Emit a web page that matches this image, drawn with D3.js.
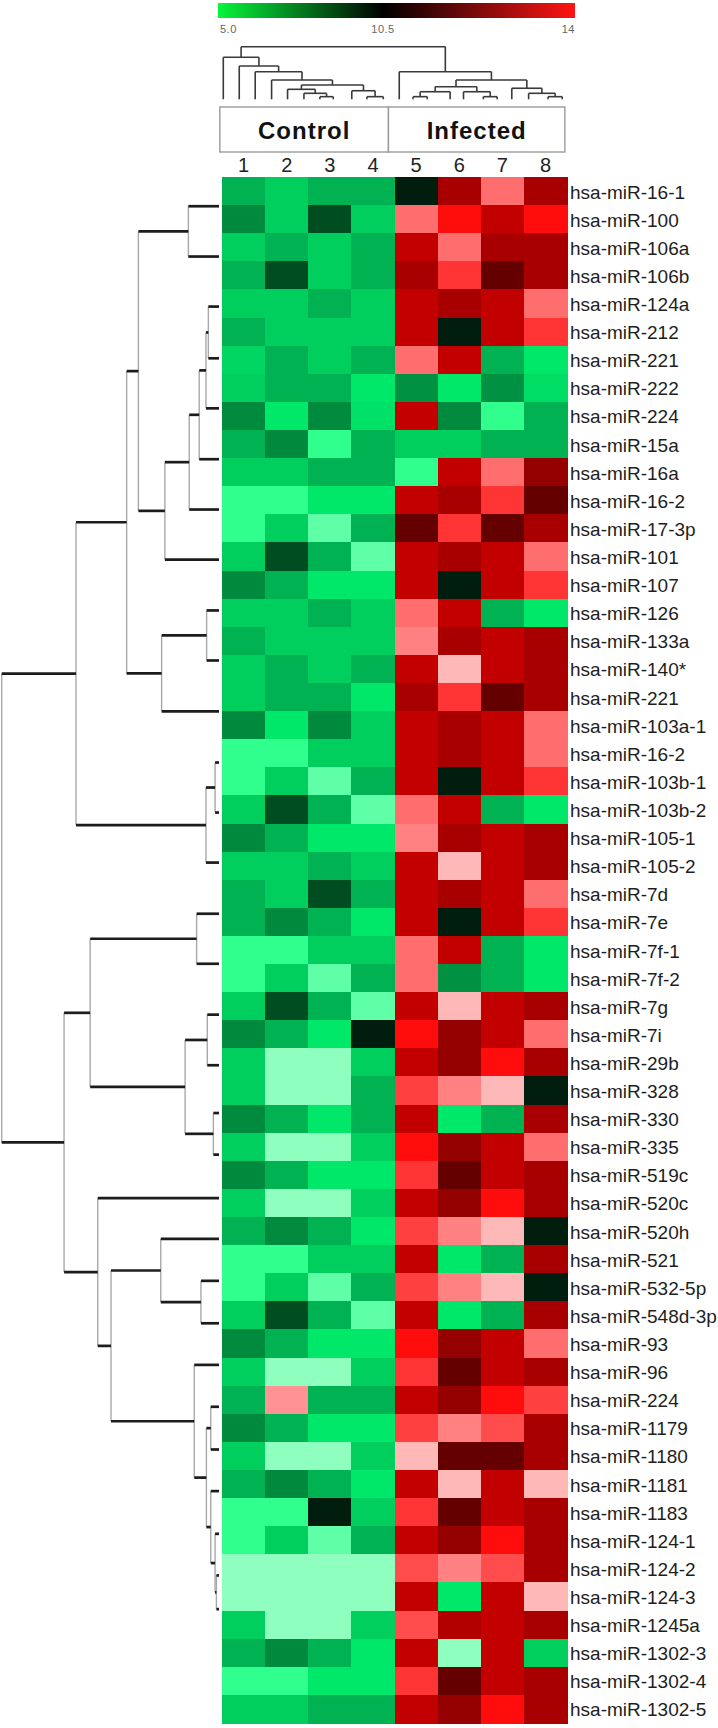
<!DOCTYPE html>
<html><head><meta charset="utf-8">
<script src="https://cdn.jsdelivr.net/npm/d3@7"></script>
<style>body{margin:0;background:#fff}svg{display:block}</style>
</head><body>
<script>
// ---------- DATA ----------
const rowLabels = ["hsa-miR-16-1","hsa-miR-100","hsa-miR-106a","hsa-miR-106b","hsa-miR-124a","hsa-miR-212","hsa-miR-221","hsa-miR-222","hsa-miR-224","hsa-miR-15a","hsa-miR-16a","hsa-miR-16-2","hsa-miR-17-3p","hsa-miR-101","hsa-miR-107","hsa-miR-126","hsa-miR-133a","hsa-miR-140*","hsa-miR-221","hsa-miR-103a-1","hsa-miR-16-2","hsa-miR-103b-1","hsa-miR-103b-2","hsa-miR-105-1","hsa-miR-105-2","hsa-miR-7d","hsa-miR-7e","hsa-miR-7f-1","hsa-miR-7f-2","hsa-miR-7g","hsa-miR-7i","hsa-miR-29b","hsa-miR-328","hsa-miR-330","hsa-miR-335","hsa-miR-519c","hsa-miR-520c","hsa-miR-520h","hsa-miR-521","hsa-miR-532-5p","hsa-miR-548d-3p","hsa-miR-93","hsa-miR-96","hsa-miR-224","hsa-miR-1179","hsa-miR-1180","hsa-miR-1181","hsa-miR-1183","hsa-miR-124-1","hsa-miR-124-2","hsa-miR-124-3","hsa-miR-1245a","hsa-miR-1302-3","hsa-miR-1302-4","hsa-miR-1302-5"];
const sampleLabels = ["1","2","3","4","5","6","7","8"];
const groups = ["Control","Infected"];
const groupSpans = [[-0.05,3.86],[3.86,7.95]];   // in column units
const legendTicks = [5.0, 10.5, 14];
const legendTickLabels = ["5.0","10.5","14"];

const sample1 = [6.8,7.8,6.0,6.8,6.0,6.8,5.8,6.0,7.8,6.8,6.0,4.6,4.6,6.0,7.8,6.0,6.8,6.0,6.0,7.8,4.6,4.6,6.0,7.8,6.0,6.8,6.8,4.6,4.6,6.0,7.8,6.0,6.0,7.8,6.0,7.8,6.0,6.8,4.6,4.6,6.0,7.8,6.0,6.8,7.8,6.0,6.8,4.6,4.6,4.0,4.0,6.0,6.8,4.6,6.0];
const sample2 = [6.0,6.0,6.8,9.0,6.0,6.0,6.8,6.8,5.3,7.8,6.0,4.6,6.0,9.0,6.8,6.0,6.0,6.8,6.8,5.3,4.6,6.0,9.0,6.8,6.0,6.0,7.8,4.6,6.0,9.0,6.8,4.0,4.0,6.8,4.0,6.8,4.0,7.8,4.6,6.0,9.0,6.8,4.0,14.0,6.8,4.0,7.8,4.6,6.0,4.0,4.0,4.0,7.8,4.6,6.0];
const sample3 = [6.8,9.0,6.0,6.0,6.8,6.0,6.0,6.8,7.8,4.6,6.8,5.3,4.3,6.8,5.3,6.8,6.0,6.0,6.8,7.8,6.0,4.3,6.8,5.3,6.8,9.0,6.8,6.0,4.3,6.8,5.3,4.0,4.0,5.3,4.0,5.3,4.0,6.8,6.0,4.3,6.8,5.3,4.0,6.8,5.3,4.0,6.8,10.5,4.3,4.0,4.0,4.0,6.8,5.3,6.8];
const sample4 = [6.8,6.0,6.8,6.8,6.0,6.0,6.8,5.3,5.5,6.8,6.8,5.3,6.8,4.3,5.3,6.0,6.0,6.8,5.3,6.0,6.0,6.8,4.3,5.3,6.0,6.8,5.3,6.0,6.8,4.3,10.5,6.0,6.8,6.8,6.0,5.3,6.0,5.3,6.0,6.8,4.3,5.3,6.0,6.8,5.3,6.0,5.3,6.0,6.8,4.0,4.0,6.0,5.3,5.3,6.8];
const sample5 = [10.5,13.8,12.7,12.2,12.7,12.7,13.8,7.6,12.7,6.0,4.6,12.7,11.5,12.7,12.7,13.8,13.9,12.7,12.2,12.7,12.7,12.7,13.8,13.9,12.7,12.7,12.7,13.8,13.8,12.7,13.3,12.7,13.6,12.7,13.3,13.55,12.7,13.6,12.7,13.6,12.7,13.3,13.55,12.7,13.6,14.2,12.7,13.55,12.7,13.65,12.7,13.65,12.7,13.55,12.7];
const sample6 = [12.2,13.3,13.8,13.55,12.2,10.5,12.7,5.3,7.8,6.0,12.7,12.2,13.55,12.2,10.5,12.7,12.2,14.2,13.55,12.2,12.2,10.5,12.7,12.2,14.2,12.2,10.5,12.7,7.6,14.2,12.0,12.0,13.9,5.3,12.0,11.5,12.0,13.9,5.3,13.9,5.3,12.0,11.5,12.0,13.9,11.5,14.2,11.5,12.0,13.9,5.3,12.4,4.0,11.5,12.0];
const sample7 = [13.8,12.7,12.2,11.5,12.7,12.7,6.8,7.6,4.6,6.8,13.8,13.55,11.5,12.7,12.7,6.8,12.7,12.7,11.5,12.7,12.7,12.7,6.8,12.7,12.7,12.7,12.7,6.8,6.8,12.7,12.7,13.3,14.2,6.8,12.7,12.7,13.3,14.2,6.8,14.2,6.8,12.7,12.7,13.3,13.65,11.5,12.7,12.7,13.3,13.65,12.7,12.7,12.7,12.7,13.3];
const sample8 = [12.2,13.3,12.2,12.2,13.8,13.55,5.3,5.6,6.8,6.8,12.0,11.5,12.2,13.8,13.55,5.3,12.2,12.2,12.2,13.8,13.8,13.55,5.3,12.2,12.2,13.8,13.55,5.3,5.3,12.2,13.8,12.2,10.5,12.2,13.8,12.2,12.2,10.5,12.2,10.5,12.2,13.8,12.2,13.6,12.2,12.2,14.2,12.2,12.2,12.2,14.2,12.2,6.0,12.2,12.2];
const samples = [sample1,sample2,sample3,sample4,sample5,sample6,sample7,sample8];

// dendrograms: node = [height, left, right]; leaf = position (row / column units)
const rowTree = [1.0,
  [0.658,
    [0.425,
      [0.371, [0.141, 0.54, 2.33],
        [0.249, [0.137, [0.091, [0.060, [0.049, 4.11, 5.95], 7.73], 9.54], 11.33], 13.11]],
      [0.264, [0.057, 14.92, 16.7], 18.51]],
    [0.060, [0.018, 20.33, 22.11], 23.89]],
  [0.713,
    [0.593, [0.103, 25.71, 27.49],
      [0.156, [0.054, 29.3, 31.1], [0.026, 32.8, 34.28]]],
    [0.558, 35.83,
      [0.497,
        [0.268, 37.28, [0.083, 38.77, 40.28]],
        [0.114, 41.76,
          [0.058, [0.038, 43.25, 44.77],
            [0.038, 46.25, [0.018, 47.77, [0.012, 49.25, 50.45]]]]]]]]];

const colTree = [1.0,
  [0.80, 0.03,
    [0.633, 0.40,
      [0.525, 0.77,
        [0.367, 1.15,
          [0.272,
            [0.19, 1.52, [0.114, 1.90, [0.05, 2.27, 2.58]]],
            [0.163, 3.01, [0.05, 3.36, 3.74]]]]]]],
  [0.525, 4.11,
    [0.367,
      [0.24, [0.144, [0.05, 4.43, 4.76], 5.29], [0.144, 5.60, [0.05, 6.06, 6.38]]],
      [0.21, 6.72, [0.114, 7.11, [0.05, 7.56, 7.89]]]]]];

// ---------- STYLE / SCALES ----------
const FONT = "'Liberation Sans', Arial, Helvetica, sans-serif";
const W = 718, H = 1728;
const svg = d3.select("body").append("svg").attr("width", W).attr("height", H);

const x = d3.scaleBand().domain(d3.range(8)).range([222, 567]);
const y = d3.scaleBand().domain(d3.range(rowLabels.length)).range([177, 1723]);
const colUnit = d3.scaleLinear().domain([0, 8]).range([222, 567]);
const rowPos = d3.scaleLinear().domain([0, rowLabels.length - 1])
  .range([y(0) + y.bandwidth() / 2, y(rowLabels.length - 1) + y.bandwidth() / 2]);

const color = d3.scaleLinear()
  .domain([4.0, 4.6, 5.3, 6.0, 6.8, 7.8, 9.0, 10.5, 11.5, 12.2, 12.7, 13.3, 13.55, 13.8, 14.2])
  .range(["#8effbf","#30ff8e","#00e86a","#00cf5e","#00b251","#008a3e","#004d22","#001d0e","#640000","#a80000","#c20000","#ff0c0c","#ff3535","#ff6e6e","#ffb8b8"])
  .clamp(true);

// ---------- LEGEND ----------
const legX = d3.scaleLinear().domain(legendTicks).range([218, 383, 575]);
const defs = svg.append("defs");
const grad = defs.append("linearGradient").attr("id", "leg");
const legColors = ["#06f53c", "#000000", "#ff1414"];
legendTicks.forEach((t, i) => {
  grad.append("stop")
    .attr("offset", (legX(t) - legX.range()[0]) / (legX.range()[2] - legX.range()[0]))
    .attr("stop-color", legColors[i]);
});
svg.append("rect").attr("x", legX(5)).attr("y", 3)
  .attr("width", legX(14) - legX(5)).attr("height", 15).attr("fill", "url(#leg)");
svg.selectAll("text.leg").data(legendTicks).join("text").attr("class", "leg")
  .attr("x", (d, i) => i === 0 ? legX(d) + 2 : legX(d))
  .attr("y", 33)
  .attr("text-anchor", (d, i) => ["start", "middle", "end"][i])
  .attr("font-family", FONT).attr("font-size", 11).attr("fill", "#666")
  .attr("letter-spacing", 0.5)
  .text((d, i) => legendTickLabels[i]);

// ---------- DENDROGRAM HELPERS ----------
function layout(node) {
  if (typeof node === "number") return { h: 0, p: node, kids: [] };
  const a = layout(node[1]), b = layout(node[2]);
  return { h: node[0], p: (a.p + b.p) / 2, kids: [a, b] };
}
function collect(n, out) {
  if (n.kids.length) { out.push(n); n.kids.forEach(k => collect(k, out)); }
  return out;
}

// row dendrogram (left)
const hx = d3.scaleLinear().domain([0, 1]).range([219, 1.7]);
const rNodes = collect(layout(rowTree), []);
const rg = svg.append("g");
rNodes.forEach(n => {
  rg.append("line").attr("x1", hx(n.h)).attr("x2", hx(n.h))
    .attr("y1", rowPos(n.kids[0].p)).attr("y2", rowPos(n.kids[1].p))
    .attr("stroke", "#a8a8a8").attr("stroke-width", 1.4);
});
rNodes.forEach(n => {
  n.kids.forEach(k => {
    rg.append("line").attr("x1", hx(n.h)).attr("x2", hx(k.h))
      .attr("y1", rowPos(k.p)).attr("y2", rowPos(k.p))
      .attr("stroke", "#1c1c1c").attr("stroke-width", 2.7);
  });
});

// column dendrogram (top)
const hy = d3.scaleLinear().domain([0, 1]).range([99.3, 46.7]);
const cNodes = collect(layout(colTree), []);
const cg = svg.append("g").attr("stroke", "#3a3a3a").attr("stroke-width", 1.6).attr("fill", "none");
cNodes.forEach(n => {
  cg.append("line").attr("x1", colUnit(n.kids[0].p)).attr("x2", colUnit(n.kids[1].p))
    .attr("y1", hy(n.h)).attr("y2", hy(n.h));
  n.kids.forEach(k => {
    cg.append("line").attr("x1", colUnit(k.p)).attr("x2", colUnit(k.p))
      .attr("y1", hy(n.h)).attr("y2", hy(k.h));
  });
});

// ---------- GROUP BOXES ----------
const gb = svg.selectAll("g.grp").data(groups).join("g").attr("class", "grp");
gb.append("rect")
  .attr("x", (d, i) => colUnit(groupSpans[i][0])).attr("y", 107)
  .attr("width", (d, i) => colUnit(groupSpans[i][1]) - colUnit(groupSpans[i][0]))
  .attr("height", 45).attr("fill", "#fff").attr("stroke", "#9a9a9a").attr("stroke-width", 1.4);
gb.append("text")
  .attr("x", (d, i) => (colUnit(groupSpans[i][0]) + colUnit(groupSpans[i][1])) / 2)
  .attr("y", 139).attr("text-anchor", "middle")
  .attr("font-family", FONT).attr("font-weight", "bold").attr("font-size", 24)
  .attr("letter-spacing", 1).attr("fill", "#111").text(d => d);

// column numbers
svg.selectAll("text.col").data(sampleLabels).join("text").attr("class", "col")
  .attr("x", (d, i) => x(i) + x.bandwidth() / 2).attr("y", 172)
  .attr("text-anchor", "middle").attr("font-family", FONT).attr("font-size", 20)
  .attr("fill", "#222").text(d => d);

// ---------- HEATMAP ----------
const cells = [];
samples.forEach((s, c) => s.forEach((v, r) => cells.push({ r, c, v })));
svg.append("g").selectAll("rect").data(cells).join("rect")
  .attr("x", d => x(d.c)).attr("y", d => y(d.r))
  .attr("width", x.bandwidth() + 0.6).attr("height", y.bandwidth() + 0.6)
  .attr("fill", d => color(d.v)).attr("shape-rendering", "crispEdges");

// row labels
svg.selectAll("text.row").data(rowLabels).join("text").attr("class", "row")
  .attr("x", 570).attr("y", (d, i) => y(i) + y.bandwidth() / 2 + 7.5)
  .attr("font-family", FONT).attr("font-size", 19).attr("fill", "#1e1e1e")
  .text(d => d);
</script>
</body></html>
